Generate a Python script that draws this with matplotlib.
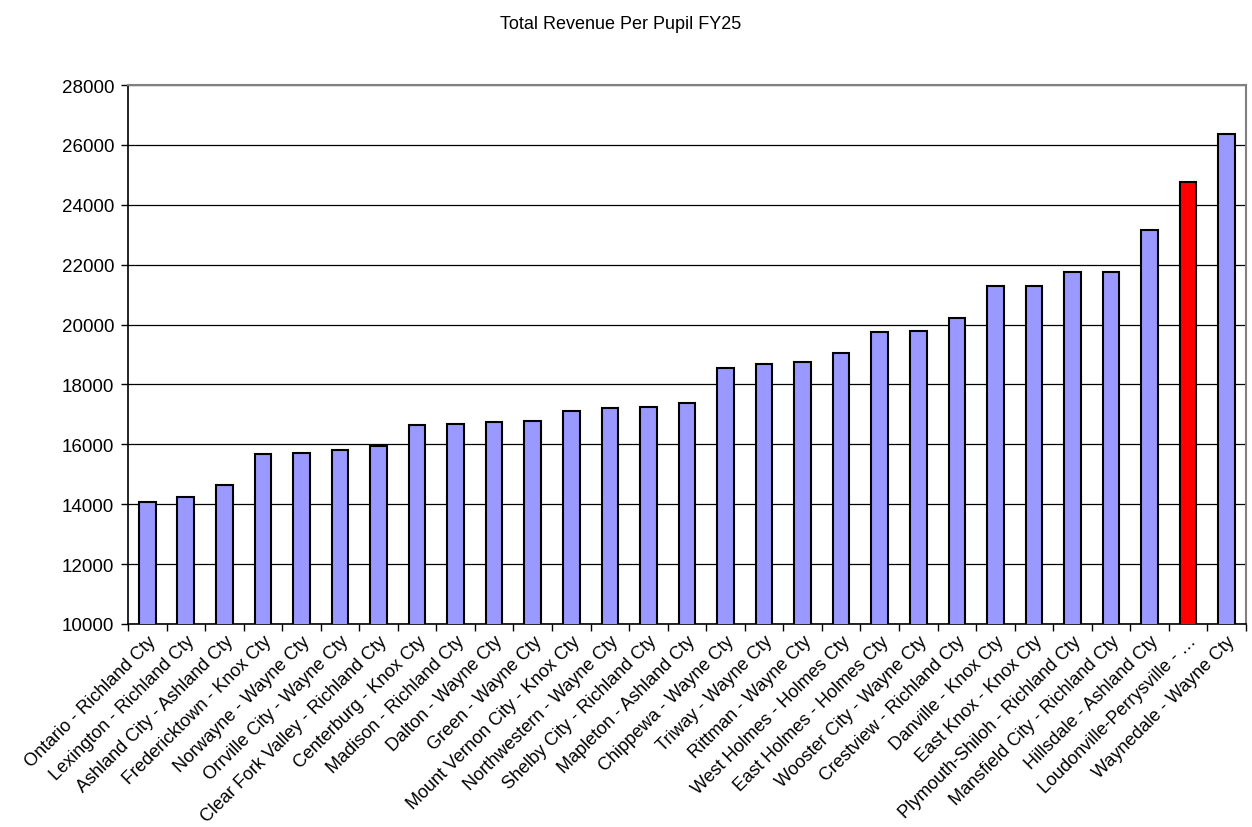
import matplotlib
matplotlib.use("Agg")
from matplotlib import pyplot as plt
from matplotlib.ticker import FixedLocator

districts = [
    "Ontario - Richland Cty", "Lexington - Richland Cty", "Ashland City - Ashland Cty",
    "Fredericktown - Knox Cty", "Norwayne - Wayne Cty", "Orrville City - Wayne Cty",
    "Clear Fork Valley - Richland Cty", "Centerburg - Knox Cty", "Madison - Richland Cty",
    "Dalton - Wayne Cty", "Green - Wayne Cty", "Mount Vernon City - Knox Cty",
    "Northwestern - Wayne Cty", "Shelby City - Richland Cty", "Mapleton - Ashland Cty",
    "Chippewa - Wayne Cty", "Triway - Wayne Cty", "Rittman - Wayne Cty",
    "West Holmes - Holmes Cty", "East Holmes - Holmes Cty", "Wooster City - Wayne Cty",
    "Crestview - Richland Cty", "Danville - Knox Cty", "East Knox - Knox Cty",
    "Plymouth-Shiloh - Richland Cty", "Mansfield City - Richland Cty", "Hillsdale - Ashland Cty",
    "Loudonville-Perrysville - \u2026", "Waynedale - Wayne Cty",
]
revenue = [
    14060, 14250, 14640, 15680, 15710, 15810, 15950, 16650, 16680,
    16750, 16780, 17100, 17200, 17240, 17380, 18550, 18680, 18750,
    19050, 19760, 19790, 20220, 21280, 21280, 21760, 21760, 23160,
    24770, 26370,
]
highlight = "Loudonville-Perrysville - \u2026"

plt.rcParams["font.family"] = ["Liberation Sans", "DejaVu Sans"]

fig = plt.figure(figsize=(12.52, 8.28), dpi=100)
ax = fig.add_axes([0.1022, 0.2452, 0.8930, 0.6509])

x = list(range(len(districts)))
colors = ["#ff0000" if d == highlight else "#9999ff" for d in districts]
ax.bar(x, revenue, width=0.43, color=colors, edgecolor="black", linewidth=1.5, zorder=3)

ax.set_xlim(-0.5, len(districts) - 0.5)
ax.set_ylim(10000, 28000)
ax.set_yticks(range(10000, 28001, 2000))
ax.yaxis.grid(True, color="black", linewidth=0.9, zorder=0)
ax.tick_params(axis="y", labelsize=13.5, length=5, direction="out", width=1, pad=5)

ax.set_xticks(x)
ax.set_xticklabels(districts, rotation=45, ha="right", rotation_mode="anchor", fontsize=13)
ax.tick_params(axis="x", length=0, pad=6)
ax.xaxis.set_minor_locator(FixedLocator([i - 0.5 for i in range(len(districts) + 1)]))
ax.tick_params(axis="x", which="minor", length=5, width=1)

ax.spines["left"].set_color("black")
ax.spines["bottom"].set_color("black")
ax.spines["left"].set_linewidth(1.2)
ax.spines["bottom"].set_linewidth(1.2)
ax.spines["top"].set_color("#808080")
ax.spines["right"].set_color("#808080")
ax.spines["top"].set_linewidth(1.5)
ax.spines["right"].set_linewidth(1.5)

fig.text(0.496, 0.971, "Total Revenue Per Pupil FY25", ha="center", va="center", fontsize=13)

fig.savefig("out.png", dpi=100)
